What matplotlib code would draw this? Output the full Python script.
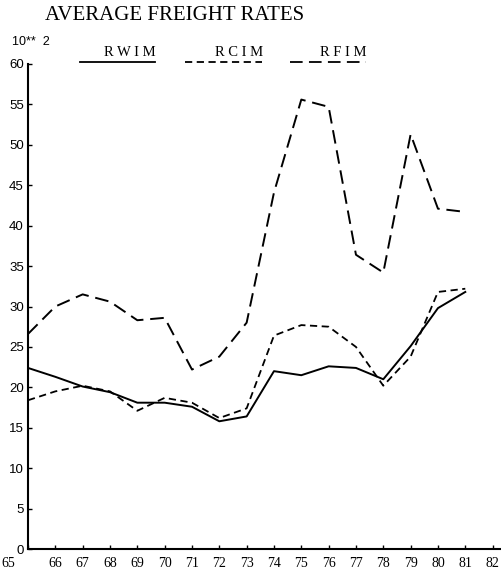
import matplotlib.pyplot as plt
import matplotlib.transforms as mtransforms
from matplotlib.lines import Line2D

years = list(range(65, 82))
rwim = [22.4, 21.3, 20.1, 19.4, 18.1, 18.1, 17.6, 15.8, 16.4, 22.0,
        21.5, 22.6, 22.4, 21.0, 25.1, 29.8, 31.8]
rcim = [18.4, 19.5, 20.2, 19.5, 17.1, 18.7, 18.1, 16.2, 17.4, 26.4,
        27.7, 27.5, 25.0, 20.2, 23.8, 31.8, 32.2]
rfim = [26.6, 30.0, 31.5, 30.6, 28.3, 28.6, 22.2, 23.8, 28.0, 44.1,
        55.6, 54.7, 36.4, 34.2, 51.3, 42.1, 41.7]
xticks = list(range(65, 83))
yticks = list(range(0, 61, 5))

W, H = 502, 574
fig = plt.figure(figsize=(W / 100, H / 100), dpi=100)
ax = fig.add_axes([28 / W, 1 - 549 / H, (500 - 28) / W, (549 - 64) / H])

ax.plot(years, rwim, color='black', lw=1.4)
ax.plot(years, rcim, color='black', lw=1.3, dashes=(4, 2.5))
ax.plot(years, rfim, color='black', lw=1.4, dashes=(7, 3.5))

ax.set_xlim(65, 82.27)
ax.set_ylim(0, 60)
ax.set_xticks(xticks)
ax.set_yticks(yticks)
ax.set_xticklabels([str(t) for t in xticks], family='Liberation Serif', fontsize=10)
ax.set_yticklabels([str(t) for t in yticks], family='Liberation Sans', fontsize=9.5)
ax.tick_params(direction='in', length=3, width=1)
ax.tick_params(axis='x', pad=6)
ax.tick_params(axis='y', pad=3)
# first year label sits left of its tick in the original
first = ax.get_xticklabels()[0]
first.set_transform(first.get_transform() +
                    mtransforms.ScaledTranslation(-0.2, 0, fig.dpi_scale_trans))
for s in ['top', 'right']:
    ax.spines[s].set_visible(False)
for s in ['left', 'bottom']:
    ax.spines[s].set_linewidth(1.5)

fig.text(45 / W, 1 - 15 / H, 'AVERAGE FREIGHT RATES', family='Liberation Serif',
         fontsize=15, va='center', ha='left')
fig.text(12 / W, 1 - 42 / H, '10**  2', family='Liberation Sans', fontsize=9,
         va='center', ha='left')

# legend drawn by hand, as in the original print
legend = [('R W I M', None, 80, 155), ('R C I M', (4, 2.5), 185, 262),
          ('R F I M', (7, 3.5), 290, 366)]
for label, dash, x0, x1 in legend:
    ln = Line2D([x0 / W, x1 / W], [1 - 62 / H, 1 - 62 / H], color='black', lw=1.3,
                transform=fig.transFigure)
    if dash:
        ln.set_dashes(dash)
    fig.add_artist(ln)
    fig.text((x1 + 1) / W, 1 - 52 / H, label, family='Liberation Serif', fontsize=10.5,
             va='center', ha='right')

fig.savefig('out.png', dpi=100)
